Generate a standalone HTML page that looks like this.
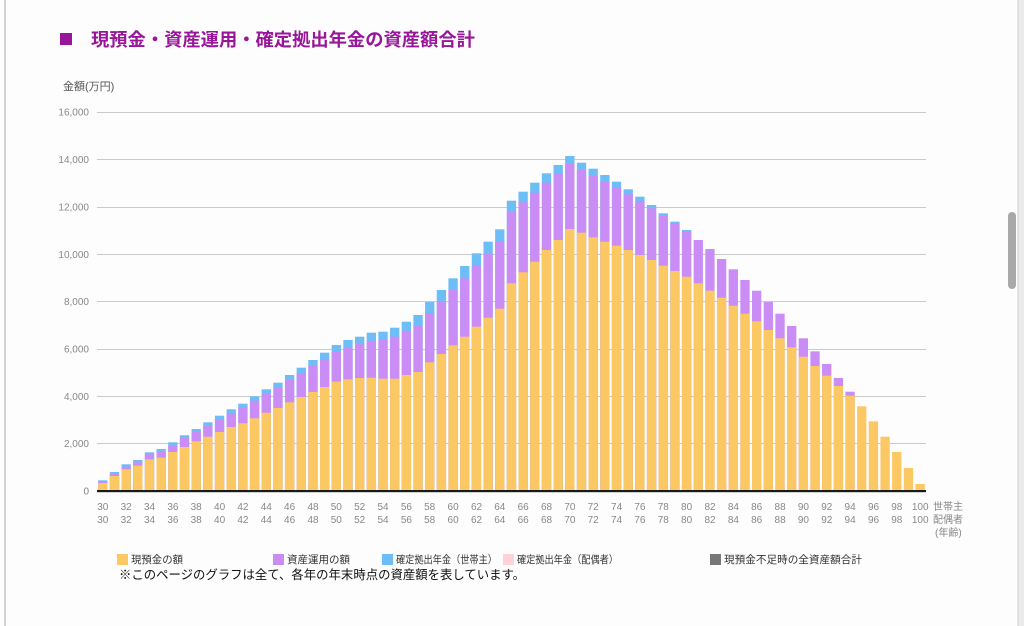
<!DOCTYPE html>
<html><head><meta charset="utf-8"><style>
html,body{margin:0;padding:0;background:#fdfdfd;}
svg{display:block;font-family:"Liberation Sans","Noto Sans CJK JP",sans-serif;}
.b{fill:#6dbdf6}.p{fill:#ca8df6}.y{fill:#fcc864}
.yl{font-size:10px;fill:#888;text-anchor:end}
.xl{font-size:10px;fill:#888;text-anchor:middle}
.lg{font-size:10.5px;fill:#333}
</style></head><body>
<svg width="1024" height="626" viewBox="0 0 1024 626" xmlns="http://www.w3.org/2000/svg">
<rect x="0" y="0" width="1024" height="626" fill="#fdfdfd"/>
<rect x="4" y="0" width="2" height="626" fill="#d2d2d2"/>
<rect x="1018" y="0" width="6" height="626" fill="#ebebeb"/>
<rect x="1017.5" y="0" width="1" height="626" fill="#d0d0d0"/>
<rect x="1008" y="212" width="8" height="77" rx="4" fill="#a9a9a9"/>

<rect x="60" y="33" width="12" height="12" fill="#98169a"/>
<text x="91" y="46" font-size="18.3" font-weight="bold" fill="#98169a">現預金・資産運用・確定拠出年金の資産額合計</text>
<text x="63" y="90" font-size="11" fill="#555">金額(万円)</text>

<g stroke="#cacaca" stroke-width="1">
<line x1="97" x2="926" y1="112.5" y2="112.5"/>
<line x1="97" x2="926" y1="159.5" y2="159.5"/>
<line x1="97" x2="926" y1="207.5" y2="207.5"/>
<line x1="97" x2="926" y1="254.5" y2="254.5"/>
<line x1="97" x2="926" y1="301.5" y2="301.5"/>
<line x1="97" x2="926" y1="349.5" y2="349.5"/>
<line x1="97" x2="926" y1="396.5" y2="396.5"/>
<line x1="97" x2="926" y1="443.5" y2="443.5"/>
</g>
<g class="yl">
<text class="yl" x="89" y="115.5">16,000</text>
<text class="yl" x="89" y="163">14,000</text>
<text class="yl" x="89" y="210.5">12,000</text>
<text class="yl" x="89" y="258">10,000</text>
<text class="yl" x="89" y="305">8,000</text>
<text class="yl" x="89" y="352.5">6,000</text>
<text class="yl" x="89" y="400">4,000</text>
<text class="yl" x="89" y="447">2,000</text>
<text class="yl" x="89" y="494.5">0</text>
</g>

<defs><clipPath id="c"><rect x="90" y="100" width="850" height="391"/></clipPath></defs>
<g clip-path="url(#c)">
<g transform="translate(98.15)"><rect class="b" y="480.3" width="9.3" height="30"/><rect class="p" y="481.7" width="9.3" height="30"/><rect class="y" y="483" width="9.3" height="30"/></g>
<g transform="translate(109.83)"><rect class="b" y="472" width="9.3" height="30"/><rect class="p" y="474" width="9.3" height="30"/><rect class="y" y="476" width="9.3" height="30"/></g>
<g transform="translate(121.5)"><rect class="b" y="464.3" width="9.3" height="40"/><rect class="p" y="466.7" width="9.3" height="40"/><rect class="y" y="469.3" width="9.3" height="40"/></g>
<g transform="translate(133.18)"><rect class="b" y="460" width="9.3" height="40"/><rect class="p" y="462.3" width="9.3" height="40"/><rect class="y" y="465.7" width="9.3" height="40"/></g>
<g transform="translate(144.85)"><rect class="b" y="452.3" width="9.3" height="50"/><rect class="p" y="454.3" width="9.3" height="50"/><rect class="y" y="459.3" width="9.3" height="50"/></g>
<g transform="translate(156.53)"><rect class="b" y="449" width="9.3" height="50"/><rect class="p" y="451.7" width="9.3" height="50"/><rect class="y" y="457.7" width="9.3" height="50"/></g>
<g transform="translate(168.21)"><rect class="b" y="442.3" width="9.3" height="60"/><rect class="p" y="445" width="9.3" height="60"/><rect class="y" y="452" width="9.3" height="60"/></g>
<g transform="translate(179.88)"><rect class="b" y="435.3" width="9.3" height="60"/><rect class="p" y="438" width="9.3" height="60"/><rect class="y" y="447" width="9.3" height="60"/></g>
<g transform="translate(191.56)"><rect class="b" y="429" width="9.3" height="70"/><rect class="p" y="431.7" width="9.3" height="70"/><rect class="y" y="441.3" width="9.3" height="70"/></g>
<g transform="translate(203.23)"><rect class="b" y="422.3" width="9.3" height="80"/><rect class="p" y="425.7" width="9.3" height="80"/><rect class="y" y="436.7" width="9.3" height="80"/></g>
<g transform="translate(214.91)"><rect class="b" y="415.7" width="9.3" height="80"/><rect class="p" y="419" width="9.3" height="80"/><rect class="y" y="432" width="9.3" height="80"/></g>
<g transform="translate(226.59)"><rect class="b" y="409.3" width="9.3" height="90"/><rect class="p" y="413.3" width="9.3" height="90"/><rect class="y" y="427" width="9.3" height="90"/></g>
<g transform="translate(238.26)"><rect class="b" y="403.7" width="9.3" height="90"/><rect class="p" y="407.3" width="9.3" height="90"/><rect class="y" y="423.3" width="9.3" height="90"/></g>
<g transform="translate(249.94)"><rect class="b" y="396.3" width="9.3" height="100"/><rect class="p" y="400.7" width="9.3" height="100"/><rect class="y" y="418.3" width="9.3" height="100"/></g>
<g transform="translate(261.61)"><rect class="b" y="389.3" width="9.3" height="110"/><rect class="p" y="394" width="9.3" height="110"/><rect class="y" y="412.7" width="9.3" height="110"/></g>
<g transform="translate(273.29)"><rect class="b" y="382.7" width="9.3" height="110"/><rect class="p" y="387.7" width="9.3" height="110"/><rect class="y" y="408" width="9.3" height="110"/></g>
<g transform="translate(284.97)"><rect class="b" y="375" width="9.3" height="120"/><rect class="p" y="380" width="9.3" height="120"/><rect class="y" y="402.3" width="9.3" height="120"/></g>
<g transform="translate(296.64)"><rect class="b" y="367.7" width="9.3" height="130"/><rect class="p" y="373" width="9.3" height="130"/><rect class="y" y="397" width="9.3" height="130"/></g>
<g transform="translate(308.32)"><rect class="b" y="360" width="9.3" height="140"/><rect class="p" y="366" width="9.3" height="140"/><rect class="y" y="392" width="9.3" height="140"/></g>
<g transform="translate(319.99)"><rect class="b" y="352.7" width="9.3" height="140"/><rect class="p" y="359" width="9.3" height="140"/><rect class="y" y="387" width="9.3" height="140"/></g>
<g transform="translate(331.67)"><rect class="b" y="345" width="9.3" height="150"/><rect class="p" y="351.7" width="9.3" height="150"/><rect class="y" y="381.7" width="9.3" height="150"/></g>
<g transform="translate(343.35)"><rect class="b" y="340" width="9.3" height="160"/><rect class="p" y="348" width="9.3" height="160"/><rect class="y" y="379.3" width="9.3" height="160"/></g>
<g transform="translate(355.02)"><rect class="b" y="336.7" width="9.3" height="160"/><rect class="p" y="343.5" width="9.3" height="160"/><rect class="y" y="378" width="9.3" height="160"/></g>
<g transform="translate(366.7)"><rect class="b" y="332.7" width="9.3" height="160"/><rect class="p" y="340.7" width="9.3" height="160"/><rect class="y" y="377.7" width="9.3" height="160"/></g>
<g transform="translate(378.37)"><rect class="b" y="331.7" width="9.3" height="160"/><rect class="p" y="340" width="9.3" height="160"/><rect class="y" y="378.7" width="9.3" height="160"/></g>
<g transform="translate(390.05)"><rect class="b" y="327.7" width="9.3" height="170"/><rect class="p" y="336.7" width="9.3" height="170"/><rect class="y" y="378.7" width="9.3" height="170"/></g>
<g transform="translate(401.73)"><rect class="b" y="321.7" width="9.3" height="170"/><rect class="p" y="330.7" width="9.3" height="170"/><rect class="y" y="375" width="9.3" height="170"/></g>
<g transform="translate(413.4)"><rect class="b" y="315" width="9.3" height="180"/><rect class="p" y="325" width="9.3" height="180"/><rect class="y" y="372" width="9.3" height="180"/></g>
<g transform="translate(425.08)"><rect class="b" y="302" width="9.3" height="190"/><rect class="p" y="313.3" width="9.3" height="190"/><rect class="y" y="362.3" width="9.3" height="190"/></g>
<g transform="translate(436.75)"><rect class="b" y="290" width="9.3" height="210"/><rect class="p" y="301.7" width="9.3" height="210"/><rect class="y" y="354" width="9.3" height="210"/></g>
<g transform="translate(448.43)"><rect class="b" y="278.3" width="9.3" height="220"/><rect class="p" y="290" width="9.3" height="220"/><rect class="y" y="345.3" width="9.3" height="220"/></g>
<g transform="translate(460.11)"><rect class="b" y="266" width="9.3" height="230"/><rect class="p" y="278.3" width="9.3" height="230"/><rect class="y" y="336.7" width="9.3" height="230"/></g>
<g transform="translate(471.78)"><rect class="b" y="253.3" width="9.3" height="240"/><rect class="p" y="265.7" width="9.3" height="240"/><rect class="y" y="326.7" width="9.3" height="240"/></g>
<g transform="translate(483.46)"><rect class="b" y="241.7" width="9.3" height="260"/><rect class="p" y="253.3" width="9.3" height="260"/><rect class="y" y="317.7" width="9.3" height="260"/></g>
<g transform="translate(495.13)"><rect class="b" y="229.3" width="9.3" height="270"/><rect class="p" y="241" width="9.3" height="270"/><rect class="y" y="308.7" width="9.3" height="270"/></g>
<g transform="translate(506.81)"><rect class="b" y="200.7" width="9.3" height="300"/><rect class="p" y="211.7" width="9.3" height="300"/><rect class="y" y="283.3" width="9.3" height="300"/></g>
<g transform="translate(518.49)"><rect class="b" y="191.7" width="9.3" height="310"/><rect class="p" y="202.3" width="9.3" height="310"/><rect class="y" y="272.3" width="9.3" height="310"/></g>
<g transform="translate(530.16)"><rect class="b" y="182.7" width="9.3" height="320"/><rect class="p" y="192.7" width="9.3" height="320"/><rect class="y" y="261.7" width="9.3" height="320"/></g>
<g transform="translate(541.84)"><rect class="b" y="173.3" width="9.3" height="330"/><rect class="p" y="182.7" width="9.3" height="330"/><rect class="y" y="250" width="9.3" height="330"/></g>
<g transform="translate(553.51)"><rect class="b" y="165" width="9.3" height="340"/><rect class="p" y="174" width="9.3" height="340"/><rect class="y" y="240" width="9.3" height="340"/></g>
<g transform="translate(565.19)"><rect class="b" y="156" width="9.3" height="340"/><rect class="p" y="164" width="9.3" height="340"/><rect class="y" y="229" width="9.3" height="340"/></g>
<g transform="translate(576.87)"><rect class="b" y="162.7" width="9.3" height="340"/><rect class="p" y="170" width="9.3" height="340"/><rect class="y" y="232.7" width="9.3" height="340"/></g>
<g transform="translate(588.54)"><rect class="b" y="168.7" width="9.3" height="330"/><rect class="p" y="176" width="9.3" height="330"/><rect class="y" y="237.3" width="9.3" height="330"/></g>
<g transform="translate(600.22)"><rect class="b" y="175" width="9.3" height="330"/><rect class="p" y="182" width="9.3" height="330"/><rect class="y" y="241.7" width="9.3" height="330"/></g>
<g transform="translate(611.89)"><rect class="b" y="181.7" width="9.3" height="320"/><rect class="p" y="187.3" width="9.3" height="320"/><rect class="y" y="245.7" width="9.3" height="320"/></g>
<g transform="translate(623.57)"><rect class="b" y="189.3" width="9.3" height="310"/><rect class="p" y="194.3" width="9.3" height="310"/><rect class="y" y="250" width="9.3" height="310"/></g>
<g transform="translate(635.25)"><rect class="b" y="196.7" width="9.3" height="300"/><rect class="p" y="201" width="9.3" height="300"/><rect class="y" y="255" width="9.3" height="300"/></g>
<g transform="translate(646.92)"><rect class="b" y="205" width="9.3" height="290"/><rect class="p" y="208.3" width="9.3" height="290"/><rect class="y" y="260" width="9.3" height="290"/></g>
<g transform="translate(658.6)"><rect class="b" y="213.3" width="9.3" height="280"/><rect class="p" y="216" width="9.3" height="280"/><rect class="y" y="265.7" width="9.3" height="280"/></g>
<g transform="translate(670.27)"><rect class="b" y="221.7" width="9.3" height="280"/><rect class="p" y="223.3" width="9.3" height="280"/><rect class="y" y="271" width="9.3" height="280"/></g>
<g transform="translate(681.95)"><rect class="b" y="230" width="9.3" height="270"/><rect class="p" y="231" width="9.3" height="270"/><rect class="y" y="276.7" width="9.3" height="270"/></g>
<g transform="translate(693.63)"><rect class="p" y="240" width="9.3" height="260"/><rect class="y" y="283.3" width="9.3" height="260"/></g>
<g transform="translate(705.3)"><rect class="p" y="249" width="9.3" height="250"/><rect class="y" y="290.7" width="9.3" height="250"/></g>
<g transform="translate(716.98)"><rect class="p" y="259" width="9.3" height="240"/><rect class="y" y="297.7" width="9.3" height="240"/></g>
<g transform="translate(728.65)"><rect class="p" y="269.3" width="9.3" height="230"/><rect class="y" y="305.7" width="9.3" height="230"/></g>
<g transform="translate(740.33)"><rect class="p" y="280" width="9.3" height="220"/><rect class="y" y="313.7" width="9.3" height="220"/></g>
<g transform="translate(752.01)"><rect class="p" y="290.7" width="9.3" height="210"/><rect class="y" y="321.3" width="9.3" height="210"/></g>
<g transform="translate(763.68)"><rect class="p" y="302" width="9.3" height="200"/><rect class="y" y="330" width="9.3" height="200"/></g>
<g transform="translate(775.36)"><rect class="p" y="313.7" width="9.3" height="180"/><rect class="y" y="338.3" width="9.3" height="180"/></g>
<g transform="translate(787.03)"><rect class="p" y="326" width="9.3" height="170"/><rect class="y" y="347.3" width="9.3" height="170"/></g>
<g transform="translate(798.71)"><rect class="p" y="338.3" width="9.3" height="160"/><rect class="y" y="356.7" width="9.3" height="160"/></g>
<g transform="translate(810.39)"><rect class="p" y="351.3" width="9.3" height="150"/><rect class="y" y="366" width="9.3" height="150"/></g>
<g transform="translate(822.06)"><rect class="p" y="364" width="9.3" height="130"/><rect class="y" y="375.7" width="9.3" height="130"/></g>
<g transform="translate(833.74)"><rect class="p" y="378" width="9.3" height="120"/><rect class="y" y="386" width="9.3" height="120"/></g>
<g transform="translate(845.41)"><rect class="p" y="391.7" width="9.3" height="110"/><rect class="y" y="395.7" width="9.3" height="110"/></g>
<g transform="translate(857.09)"><rect class="y" y="406.3" width="9.3" height="90"/></g>
<g transform="translate(868.77)"><rect class="y" y="421.3" width="9.3" height="80"/></g>
<g transform="translate(880.44)"><rect class="y" y="436.7" width="9.3" height="60"/></g>
<g transform="translate(892.12)"><rect class="y" y="452" width="9.3" height="50"/></g>
<g transform="translate(903.79)"><rect class="y" y="468" width="9.3" height="30"/></g>
<g transform="translate(915.47)"><rect class="y" y="484" width="9.3" height="20"/></g>
</g>
<rect x="97" y="490" width="829" height="2.2" fill="#1a1a1a"/>

<g class="xl">
<text class="xl" x="102.8" y="510">30</text><text class="xl" x="126.2" y="510">32</text><text class="xl" x="149.5" y="510">34</text><text class="xl" x="172.9" y="510">36</text><text class="xl" x="196.2" y="510">38</text><text class="xl" x="219.6" y="510">40</text><text class="xl" x="242.9" y="510">42</text><text class="xl" x="266.3" y="510">44</text><text class="xl" x="289.6" y="510">46</text><text class="xl" x="313" y="510">48</text><text class="xl" x="336.3" y="510">50</text><text class="xl" x="359.7" y="510">52</text><text class="xl" x="383" y="510">54</text><text class="xl" x="406.4" y="510">56</text><text class="xl" x="429.7" y="510">58</text><text class="xl" x="453.1" y="510">60</text><text class="xl" x="476.5" y="510">62</text><text class="xl" x="499.8" y="510">64</text><text class="xl" x="523.2" y="510">66</text><text class="xl" x="546.5" y="510">68</text><text class="xl" x="569.9" y="510">70</text><text class="xl" x="593.2" y="510">72</text><text class="xl" x="616.6" y="510">74</text><text class="xl" x="639.9" y="510">76</text><text class="xl" x="663.3" y="510">78</text><text class="xl" x="686.6" y="510">80</text><text class="xl" x="710" y="510">82</text><text class="xl" x="733.4" y="510">84</text><text class="xl" x="756.7" y="510">86</text><text class="xl" x="780.1" y="510">88</text><text class="xl" x="803.4" y="510">90</text><text class="xl" x="826.8" y="510">92</text><text class="xl" x="850.1" y="510">94</text><text class="xl" x="873.5" y="510">96</text><text class="xl" x="896.8" y="510">98</text><text class="xl" x="920.2" y="510">100</text>
<text class="xl" x="102.8" y="523">30</text><text class="xl" x="126.2" y="523">32</text><text class="xl" x="149.5" y="523">34</text><text class="xl" x="172.9" y="523">36</text><text class="xl" x="196.2" y="523">38</text><text class="xl" x="219.6" y="523">40</text><text class="xl" x="242.9" y="523">42</text><text class="xl" x="266.3" y="523">44</text><text class="xl" x="289.6" y="523">46</text><text class="xl" x="313" y="523">48</text><text class="xl" x="336.3" y="523">50</text><text class="xl" x="359.7" y="523">52</text><text class="xl" x="383" y="523">54</text><text class="xl" x="406.4" y="523">56</text><text class="xl" x="429.7" y="523">58</text><text class="xl" x="453.1" y="523">60</text><text class="xl" x="476.5" y="523">62</text><text class="xl" x="499.8" y="523">64</text><text class="xl" x="523.2" y="523">66</text><text class="xl" x="546.5" y="523">68</text><text class="xl" x="569.9" y="523">70</text><text class="xl" x="593.2" y="523">72</text><text class="xl" x="616.6" y="523">74</text><text class="xl" x="639.9" y="523">76</text><text class="xl" x="663.3" y="523">78</text><text class="xl" x="686.6" y="523">80</text><text class="xl" x="710" y="523">82</text><text class="xl" x="733.4" y="523">84</text><text class="xl" x="756.7" y="523">86</text><text class="xl" x="780.1" y="523">88</text><text class="xl" x="803.4" y="523">90</text><text class="xl" x="826.8" y="523">92</text><text class="xl" x="850.1" y="523">94</text><text class="xl" x="873.5" y="523">96</text><text class="xl" x="896.8" y="523">98</text><text class="xl" x="920.2" y="523">100</text>
</g>
<text x="933" y="510" font-size="10" fill="#888">世帯主</text>
<text x="933" y="523" font-size="10" fill="#888">配偶者</text>
<text x="935" y="536" font-size="10" fill="#888">(年齢)</text>

<rect x="117" y="554" width="11" height="11" fill="#fcc864"/>
<text class="lg" x="131" y="563" textLength="52" lengthAdjust="spacingAndGlyphs">現預金の額</text>
<rect x="273" y="554" width="11" height="11" fill="#ca8df6"/>
<text class="lg" x="287" y="563" textLength="63" lengthAdjust="spacingAndGlyphs">資産運用の額</text>
<rect x="382" y="554" width="11" height="11" fill="#6dbdf6"/>
<text class="lg" x="396" y="563" textLength="101" lengthAdjust="spacingAndGlyphs">確定拠出年金（世帯主）</text>
<rect x="503" y="554" width="11" height="11" fill="#ffd2d9"/>
<text class="lg" x="517" y="563" textLength="101" lengthAdjust="spacingAndGlyphs">確定拠出年金（配偶者）</text>
<rect x="710" y="554" width="11" height="11" fill="#777"/>
<text class="lg" x="724" y="563" textLength="138" lengthAdjust="spacingAndGlyphs">現預金不足時の全資産額合計</text>
<text x="119" y="579" font-size="12.6" fill="#111" textLength="406" lengthAdjust="spacingAndGlyphs">※このページのグラフは全て、各年の年末時点の資産額を表しています。</text>
</svg>
</body></html>
